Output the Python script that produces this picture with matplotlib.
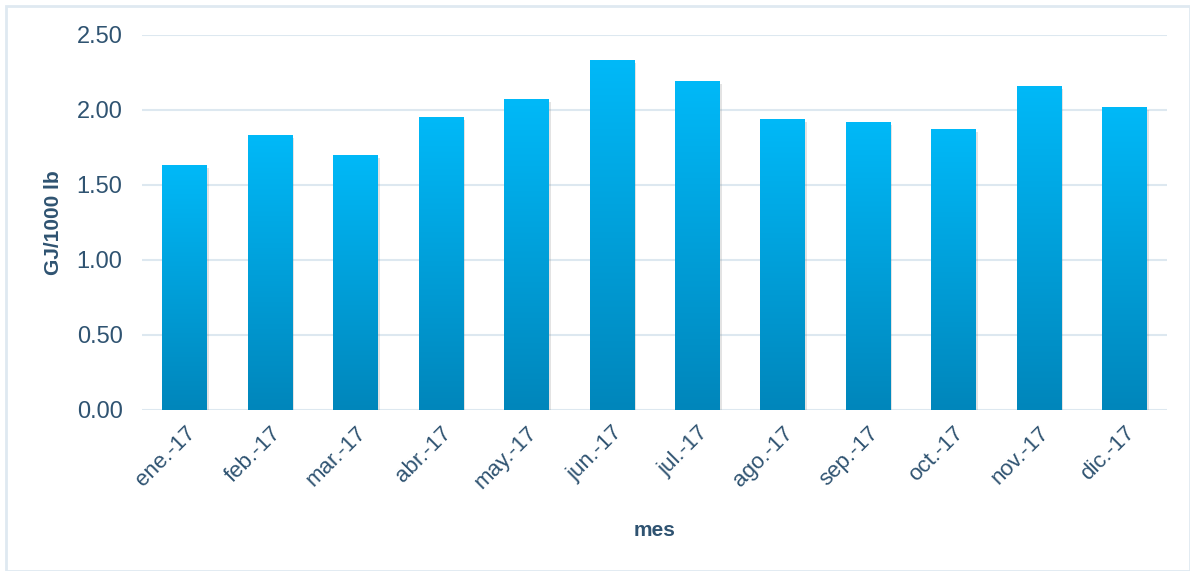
import matplotlib
matplotlib.use("Agg")
import matplotlib.pyplot as plt
import matplotlib.patheffects as pe
from matplotlib.patches import Rectangle
from matplotlib.colors import LinearSegmentedColormap
import numpy as np

meses = ["ene.-17", "feb.-17", "mar.-17", "abr.-17", "may.-17", "jun.-17",
         "jul.-17", "ago.-17", "sep.-17", "oct.-17", "nov.-17", "dic.-17"]
valores = [1.63, 1.83, 1.70, 1.95, 2.07, 2.33, 2.19, 1.94, 1.92, 1.87, 2.16, 2.02]
yticks = [0.0, 0.5, 1.0, 1.5, 2.0, 2.5]

plt.rcParams['font.family'] = ['Liberation Sans', 'DejaVu Sans']
txt = "#2f5371"
grid = "#dde8f0"

fig = plt.figure(figsize=(11.9, 5.71), dpi=100)
fig.patches.append(Rectangle((0.005, 0.0), 0.995, 0.99, transform=fig.transFigure,
                             fill=False, edgecolor="#dfe9f1", linewidth=2))
ax = fig.add_axes([0.1193, 0.282, 0.8614, 0.657])

x = np.arange(len(meses))
bars = ax.bar(x, valores, width=0.52, color="#00b4f0", zorder=3,
              path_effects=[pe.SimplePatchShadow(offset=(1.5, -2), alpha=0.22, shadow_rgbFace="gray"),
                            pe.Normal()])

# gradient fill, light at the top of every bar
grad = np.linspace(0, 1, 256).reshape(-1, 1)
cmap = LinearSegmentedColormap.from_list("g", ["#0086bb", "#00b9f8"])
for b in bars:
    x0, w, h = b.get_x(), b.get_width(), b.get_height()
    im = ax.imshow(grad, extent=[x0, x0 + w, 0, h], origin="lower", cmap=cmap,
                   aspect="auto", zorder=4)
    im.set_clip_path(b)

ax.set_xlim(-0.5, len(meses) - 0.5)
ax.set_ylim(0, 2.5)
ax.set_yticks(yticks)
ax.set_yticklabels([f"{v:.2f}" for v in yticks], fontsize=17, color=txt)
ax.set_xticks(x)
ax.set_xticklabels(meses, rotation=45, ha="right", rotation_mode="anchor",
                   fontsize=16, color=txt)
ax.tick_params(length=0, axis="y", pad=14)
ax.tick_params(length=0, axis="x", pad=9)
ax.grid(axis="y", color=grid, linewidth=1.5, zorder=0)
for s in ax.spines.values():
    s.set_visible(False)

ax.set_ylabel("GJ/1000 lb", fontsize=15, fontweight="bold", color=txt, labelpad=10)
ax.set_xlabel("mes", fontsize=15, fontweight="bold", color=txt, labelpad=20)

fig.savefig("out.png", dpi=100)
